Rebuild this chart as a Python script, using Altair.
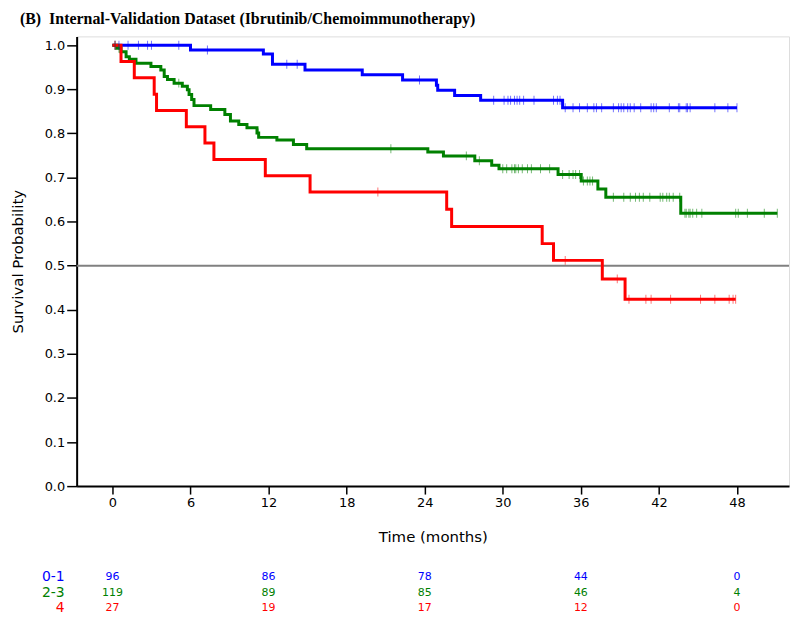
import altair as alt
import pandas as pd

# ---- data ----
groups = ["0-1", "2-3", "4"]
colors = ["#0000FF", "#008000", "#FF0000"]

blue_t = [0, 6.0, 11.6, 12.3, 14.8, 19.2, 22.3, 24.9, 25.0, 26.3, 28.3, 34.6, 48.0]
blue_s = [1.0, 0.989, 0.980, 0.957, 0.944, 0.933, 0.921, 0.909, 0.898, 0.886, 0.875, 0.858, 0.858]

green_t = [0, 0.33, 0.66, 1.05, 1.30, 1.81, 2.96, 3.72, 3.98, 4.23, 4.74, 5.37, 5.76, 5.89, 6.09,
           6.27, 7.55, 8.64, 9.07, 9.71, 10.34, 11.11, 11.24, 12.64, 13.91, 14.93, 24.24, 25.44,
           27.85, 29.15, 29.71, 34.25, 36.03, 37.31, 37.92, 43.68, 51.1]
green_s = [1.0, 0.993, 0.985, 0.974, 0.968, 0.959, 0.952, 0.944, 0.929, 0.922, 0.914, 0.907, 0.899,
           0.888, 0.877, 0.863, 0.854, 0.843, 0.828, 0.820, 0.813, 0.801, 0.791, 0.785, 0.775, 0.765,
           0.758, 0.749, 0.738, 0.728, 0.720, 0.707, 0.692, 0.674, 0.655, 0.619, 0.619]

red_t = [0, 0.66, 1.68, 3.21, 3.39, 5.68, 7.11, 7.80, 11.75, 15.19, 25.69, 26.07, 33.03, 33.9, 37.65, 39.4, 47.9]
red_s = [1.0, 0.963, 0.926, 0.889, 0.852, 0.815, 0.778, 0.741, 0.704, 0.667, 0.628, 0.589, 0.550, 0.512, 0.470, 0.424, 0.424]

blue_cens = [0.2, 0.5, 1.2, 2.0, 2.7, 3.0, 5.1, 7.3, 13.4, 14.2, 23.6, 29.3, 30.1, 30.4, 30.6, 30.9,
             31.1, 31.3, 31.6, 32.4, 33.9, 34.2, 34.4, 34.8, 35.4, 35.9, 36.5, 37.0, 37.2, 37.6, 38.5,
             38.9, 39.1, 39.3, 39.6, 39.8, 40.1, 40.6, 41.4, 41.6, 41.8, 42.8, 43.5, 43.6, 44.1, 44.2,
             44.4, 46.3, 47.3, 48.0]
green_cens = [0.2, 0.5, 5.1, 11.2, 21.4, 27.2, 28.2, 30.0, 30.3, 30.7, 30.9, 31.0, 31.2, 31.5, 31.9,
              32.2, 32.9, 33.6, 34.6, 35.1, 35.4, 35.6, 35.9, 36.2, 36.5, 36.7, 36.9, 38.5, 39.3, 39.8,
              40.2, 40.5, 40.8, 41.3, 42.1, 42.3, 42.6, 42.8, 43.1, 43.6, 44.0, 44.1, 44.3, 44.4, 44.6,
              44.9, 45.3, 47.9, 48.1, 48.8, 50.1, 51.1]
red_cens = [0.2, 20.4, 34.8, 38.8, 39.7, 41.0, 41.4, 42.9, 45.2, 46.3, 47.4, 47.7, 47.9]

risk_times = [0, 12, 24, 36, 48]
risk_blue = [96, 86, 78, 44, 0]
risk_green = [119, 89, 85, 46, 4]
risk_red = [27, 19, 17, 12, 0]

title_text = "(B)\u00a0\u00a0Internal-Validation Dataset (Ibrutinib/Chemoimmunotherapy)"

# ---- tables ----
curves = []
for g, ts, ss in zip(groups, [blue_t, green_t, red_t], [blue_s, green_s, red_s]):
    for t, s in zip(ts, ss):
        curves.append({"group": g, "t": t, "s": s})
curves = pd.DataFrame(curves)


def step_value(ts, ss, x):
    v = ss[0]
    for t, s in zip(ts, ss):
        if t <= x:
            v = s
    return v


cens = []
for g, cs, ts, ss in zip(groups, [blue_cens, green_cens, red_cens],
                         [blue_t, green_t, red_t], [blue_s, green_s, red_s]):
    for c in cs:
        cens.append({"group": g, "t": c, "s": step_value(ts, ss, c)})
cens = pd.DataFrame(cens)

risk = []
for g, ns in zip(groups, [risk_blue, risk_green, risk_red]):
    for t, n in zip(risk_times, ns):
        risk.append({"group": g, "t": t, "n": str(n)})
risk = pd.DataFrame(risk)

W, H = 716, 452
row_y = {"0-1": 543, "2-3": 559, "4": 575}

xscale = alt.Scale(domain=[-2.75, 52.0], nice=False, zero=False)
yscale = alt.Scale(domain=[0, 1.02], nice=False)
cscale = alt.Scale(domain=groups, range=colors)

xaxis = alt.Axis(values=[0, 6, 12, 18, 24, 30, 36, 42, 48], title="Time (months)", grid=False,
                 tickSize=8, tickWidth=1.5, tickColor="black", labelFontSize=13,
                 labelColor="black", labelPadding=2, titleFontSize=15, titleFontWeight="normal",
                 titleColor="black", titleY=51, titleBaseline="middle",
                 domainColor="black", domainWidth=2, labelFont="DejaVu Sans", titleFont="DejaVu Sans")
yaxis = alt.Axis(values=[i / 10 for i in range(11)], format=".1f", title="Survival Probability",
                 grid=False, tickSize=10, tickWidth=1.5, tickColor="black", labelFontSize=13,
                 labelColor="black", labelPadding=2, titleFontSize=15, titleFontWeight="normal",
                 titleColor="black", titleX=-59, titleY=226, titleBaseline="middle", titleAngle=270,
                 domainColor="black", domainWidth=2, labelFont="DejaVu Sans", titleFont="DejaVu Sans")

lines = alt.Chart(curves).mark_line(interpolate="step-after", strokeWidth=3).encode(
    x=alt.X("t:Q", scale=xscale, axis=xaxis),
    y=alt.Y("s:Q", scale=yscale, axis=yaxis),
    color=alt.Color("group:N", scale=cscale, legend=None),
    detail="group:N",
)

ticks = alt.Chart(cens).mark_tick(orient="vertical", size=9, thickness=1, opacity=0.55).encode(
    x=alt.X("t:Q", scale=xscale),
    y=alt.Y("s:Q", scale=yscale),
    color=alt.Color("group:N", scale=cscale, legend=None),
)

half = alt.Chart(pd.DataFrame({"y": [0.5]})).mark_rule(color="#808080", strokeWidth=2).encode(
    y=alt.Y("y:Q", scale=yscale)
)

risk_layers = []
for g in groups:
    sub = risk[risk["group"] == g]
    risk_layers.append(
        alt.Chart(sub).mark_text(fontSize=11, font="DejaVu Sans", baseline="middle", align="center").encode(
            x=alt.X("t:Q", scale=xscale),
            y=alt.value(row_y[g]),
            text="n:N",
            color=alt.Color("group:N", scale=cscale, legend=None),
        )
    )
    risk_layers.append(
        alt.Chart(pd.DataFrame({"label": [g]})).mark_text(
            fontSize=14, font="DejaVu Sans", baseline="middle", align="right",
            color=colors[groups.index(g)]
        ).encode(x=alt.value(-12), y=alt.value(row_y[g]), text="label:N")
    )

title = alt.Chart(pd.DataFrame({"label": [title_text]})).mark_text(
    fontSize=16, font="Liberation Serif", fontWeight="bold", align="left", baseline="middle",
    color="black"
).encode(x=alt.value(-57), y=alt.value(-17), text="label:N")

chart = alt.layer(half, lines, ticks, *risk_layers, title).properties(
    width=W, height=H,
    autosize=alt.AutoSizeParams(type="none"),
    padding={"left": 69, "top": 27, "right": 3, "bottom": 129},
).configure_view(stroke="black", strokeWidth=2).configure(background="white")

chart.save("out.html", embed_options={"renderer": "svg", "actions": False})
